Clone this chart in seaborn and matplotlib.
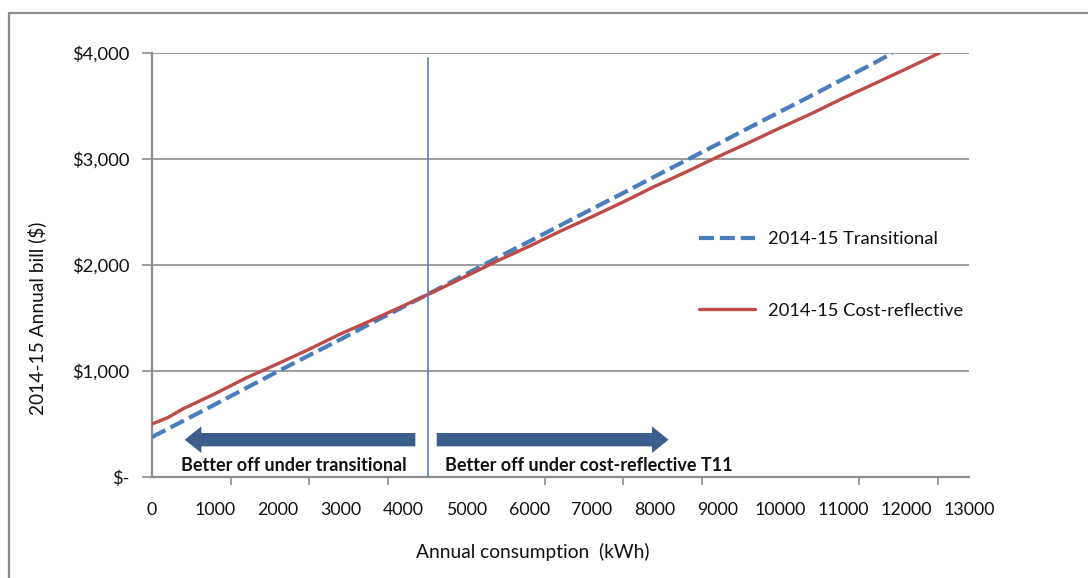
import matplotlib
matplotlib.use("Agg")
import matplotlib.pyplot as plt
import seaborn as sns
import pandas as pd
from matplotlib.lines import Line2D

# ---- data ----
transitional_kwh = [0, 500, 1000, 1500, 2000, 2500, 3000, 3500, 4000, 4500, 5000, 5500,
                    6000, 6500, 7000, 7500, 8000, 8500, 9000, 9500, 10000, 10500, 11000,
                    11500, 11780]
transitional_bill = [377, 530, 684, 840, 995, 1148, 1298, 1455, 1605, 1758, 1915, 2070,
                     2222, 2375, 2528, 2680, 2835, 2988, 3140, 3295, 3448, 3600, 3755,
                     3908, 4000]
costref_kwh = [0, 250, 500, 1000, 1500, 2000, 2500, 3000, 3500, 4000, 4500, 5000, 5500,
               6000, 6500, 7000, 7500, 8000, 8500, 9000, 9500, 10000, 10500, 11000,
               11500, 12000, 12530]
costref_bill = [500, 560, 645, 785, 935, 1068, 1205, 1350, 1480, 1615, 1752, 1895, 2040,
                2176, 2320, 2455, 2595, 2742, 2878, 3020, 3155, 3295, 3430, 3575,
                3712, 3850, 4000]
x_tick_labels = [str(v) for v in range(0, 14000, 1000)]
y_ticks = [0, 1000, 2000, 3000, 4000]
y_tick_labels = ["$-", "$1,000", "$2,000", "$3,000", "$4,000"]
crossover_kwh = 4393

sns.set_theme(style="white")
plt.rcParams["font.family"] = ["Lato", "DejaVu Sans"]

df_t = pd.DataFrame({"kwh": transitional_kwh, "bill": transitional_bill})
df_c = pd.DataFrame({"kwh": costref_kwh, "bill": costref_bill})

fig = plt.figure(figsize=(10.88, 5.78), dpi=100)
ax = fig.add_axes([152/1088, 1-477/578, 817/1088, 424/578])

blue = "#4A7EBB"
red = "#BE4B48"
dash = (0, (3.6, 1.4))
sns.lineplot(data=df_t, x="kwh", y="bill", ax=ax, color=blue, lw=3.0,
             linestyle=dash, zorder=4)
sns.lineplot(data=df_c, x="kwh", y="bill", ax=ax, color=red, lw=2.4, zorder=5)

ax.set_xlim(0, 13000)
ax.set_ylim(0, 4000)

grid_c = "#8C8C8C"
for yv in y_ticks[1:]:
    ax.axhline(yv, color=grid_c, lw=1.2, zorder=1)

ax.set_yticks(y_ticks)
ax.set_yticklabels(y_tick_labels)
ax.set_xticks(range(0, 14000, 1000))
ax.set_xticklabels(x_tick_labels)
ax.set_xticks(range(0, 13000, 1250), minor=True)
ax.tick_params(axis="x", which="major", length=0, pad=18, labelsize=12.8, colors="#111111")
ax.tick_params(axis="x", which="minor", length=6, width=1.2, color=grid_c, direction="out")
ax.tick_params(axis="y", which="major", length=7, width=1.2, color=grid_c, direction="out",
               pad=9, labelsize=13.2, colors="#111111")
ax.tick_params(axis="both", which="both", bottom=True, left=True)

for s in ["top", "right"]:
    ax.spines[s].set_visible(False)
for s in ["left", "bottom"]:
    ax.spines[s].set_color(grid_c)
    ax.spines[s].set_linewidth(1.6)

ax.set_xlabel("")
ax.set_ylabel("")
fig.text(533/1088, 1-552/578, "Annual consumption  (kWh)", ha="center", va="center",
         fontsize=13.8, color="#111111")
fig.text(37/1088, 1-318/578, "2014-15 Annual bill ($)", ha="center", va="center",
         rotation=90, fontsize=13.8, color="#111111")

# vertical crossover line
ax.plot([crossover_kwh, crossover_kwh], [0, 3950], color="#4F81BD", lw=1.2, zorder=6)

# arrows
arrow_c = "#3B5E8C"
ax.annotate("", xy=(520, 352), xytext=(4190, 352),
            arrowprops=dict(arrowstyle="simple,head_width=1.6,head_length=1.0,tail_width=0.8",
                            color=arrow_c, lw=0, shrinkA=0, shrinkB=0), zorder=6)
ax.annotate("", xy=(8220, 352), xytext=(4530, 352),
            arrowprops=dict(arrowstyle="simple,head_width=1.6,head_length=1.0,tail_width=0.8",
                            color=arrow_c, lw=0, shrinkA=0, shrinkB=0), zorder=6)
ax.text(2260, 105, "Better off under transitional", ha="center", va="center",
        fontsize=13, fontweight="bold", color="#111111")
ax.text(4660, 105, "Better off under cost-reflective T11", ha="left", va="center",
        fontsize=13, fontweight="bold", color="#111111")

# legend
handles = [Line2D([0], [0], color=blue, lw=3.0, linestyle=dash),
           Line2D([0], [0], color=red, lw=2.4)]
leg = ax.legend(handles, ["2014-15 Transitional", "2014-15 Cost-reflective"],
                loc="center left", bbox_to_anchor=(530/817, 1-(275-53)/424),
                frameon=False, fontsize=13.2, handlelength=3.1, labelspacing=3.0,
                handletextpad=0.7)
for t in leg.get_texts():
    t.set_color("#111111")

# outer border
fig.add_artist(Line2D([9/1088, 1], [1-13/578, 1-13/578], color="#8C8C8C", lw=1.6,
                      transform=fig.transFigure))
fig.add_artist(Line2D([9/1088, 9/1088], [0, 1-13/578], color="#8C8C8C", lw=1.6,
                      transform=fig.transFigure))

fig.savefig("out.png", dpi=100)
